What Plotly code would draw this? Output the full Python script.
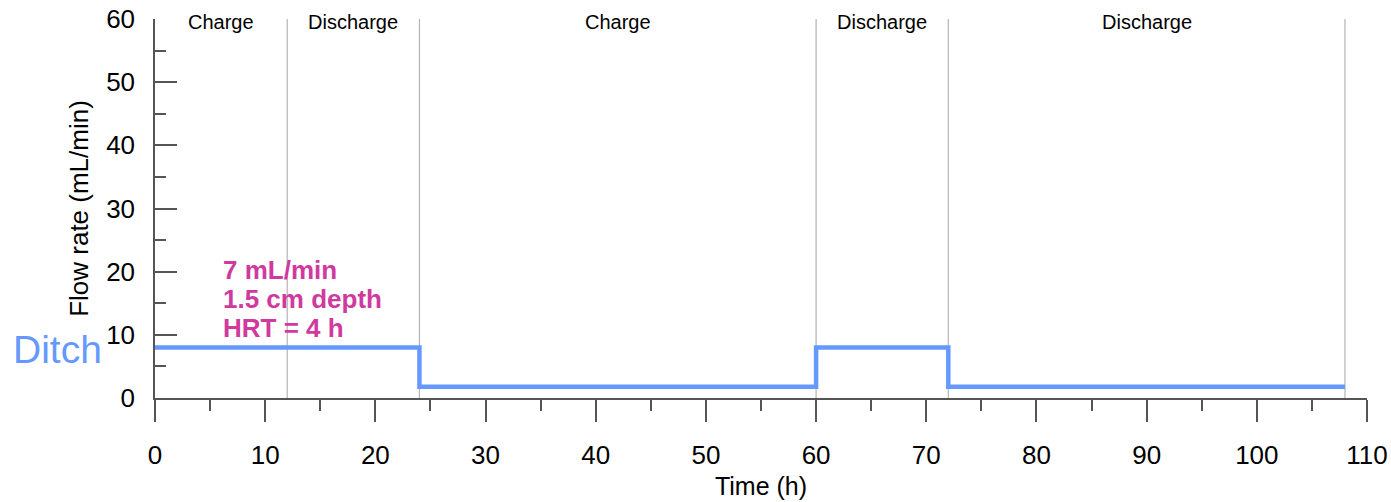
import plotly.graph_objects as go

# Data
time_h = [0, 24, 60, 72, 108]
flow_ml_min = [8, 1.8, 8, 1.8, 1.8]
phase_bounds = [12, 24, 60, 72, 108]
phase_labels = ["Charge", "Discharge", "Charge", "Discharge", "Discharge"]
phase_centers = [6, 18, 42, 66, 90]
x_ticks = [0, 10, 20, 30, 40, 50, 60, 70, 80, 90, 100, 110]
y_ticks = [0, 10, 20, 30, 40, 50, 60]
info_lines = ["7 mL/min", "1.5 cm depth", "HRT = 4 h"]
info_y = [20.3, 15.7, 11.1]

FONT = "Liberation Sans, Arial, sans-serif"
BLUE = "#6699FF"
MAGENTA = "#D03A9E"
AXIS = "#555555"

fig = go.Figure()

for xb in phase_bounds:
    fig.add_trace(go.Scatter(x=[xb, xb], y=[0, 60], mode="lines",
                             line=dict(color="#B4B4B4", width=1.2),
                             hoverinfo="skip", showlegend=False))

fig.add_trace(go.Scatter(x=time_h, y=flow_ml_min, mode="lines",
                         line=dict(color=BLUE, width=4.5, shape="hv"),
                         showlegend=False))

annotations = []
for xc, lab in zip(phase_centers, phase_labels):
    annotations.append(dict(x=xc, y=1, xref="x", yref="paper", text=lab,
                            showarrow=False, xanchor="center", yanchor="middle",
                            yshift=-3,
                            font=dict(family=FONT, size=20, color="black")))
for yv, t in zip(info_y, info_lines):
    annotations.append(dict(x=6, y=yv, xref="x", yref="y", text="<b>" + t + "</b>",
                            showarrow=False, xanchor="left", yanchor="middle",
                            font=dict(family=FONT, size=26, color=MAGENTA)))
annotations.append(dict(x=0, y=8, xref="paper", yref="y", text="Ditch",
                        showarrow=False, xanchor="right", yanchor="middle",
                        xshift=-51, yshift=-2,
                        font=dict(family=FONT, size=39, color=BLUE)))

fig.update_layout(
    width=1391, height=502,
    margin=dict(l=155, r=24, t=19, b=104),
    plot_bgcolor="white", paper_bgcolor="white",
    font=dict(family=FONT, color="black"),
    annotations=annotations,
    xaxis=dict(range=[0, 110], tickvals=x_ticks, ticks="outside", ticklen=22,
               tickwidth=1.5, tickcolor=AXIS, showline=True, linecolor=AXIS,
               linewidth=1.5, showgrid=False, zeroline=False, automargin=False,
               tickfont=dict(size=26, family=FONT), ticklabelstandoff=11,
               minor=dict(dtick=5, ticks="outside", ticklen=11, tickwidth=1.5,
                          tickcolor=AXIS, showgrid=False),
               title=dict(text="Time (h)", font=dict(size=25, family=FONT), standoff=9)),
    yaxis=dict(range=[0, 60], tickvals=y_ticks, ticks="inside", ticklen=22,
               tickwidth=1.5, tickcolor=AXIS, showline=True, linecolor=AXIS,
               linewidth=1.5, showgrid=False, zeroline=False, automargin=False,
               tickfont=dict(size=26, family=FONT), ticklabelstandoff=13,
               minor=dict(dtick=5, ticks="inside", ticklen=11, tickwidth=1.5,
                          tickcolor=AXIS, showgrid=False),
               title=dict(text="Flow rate (mL/min)", font=dict(size=26, family=FONT), standoff=10)),
)

fig.write_html("out.html")
